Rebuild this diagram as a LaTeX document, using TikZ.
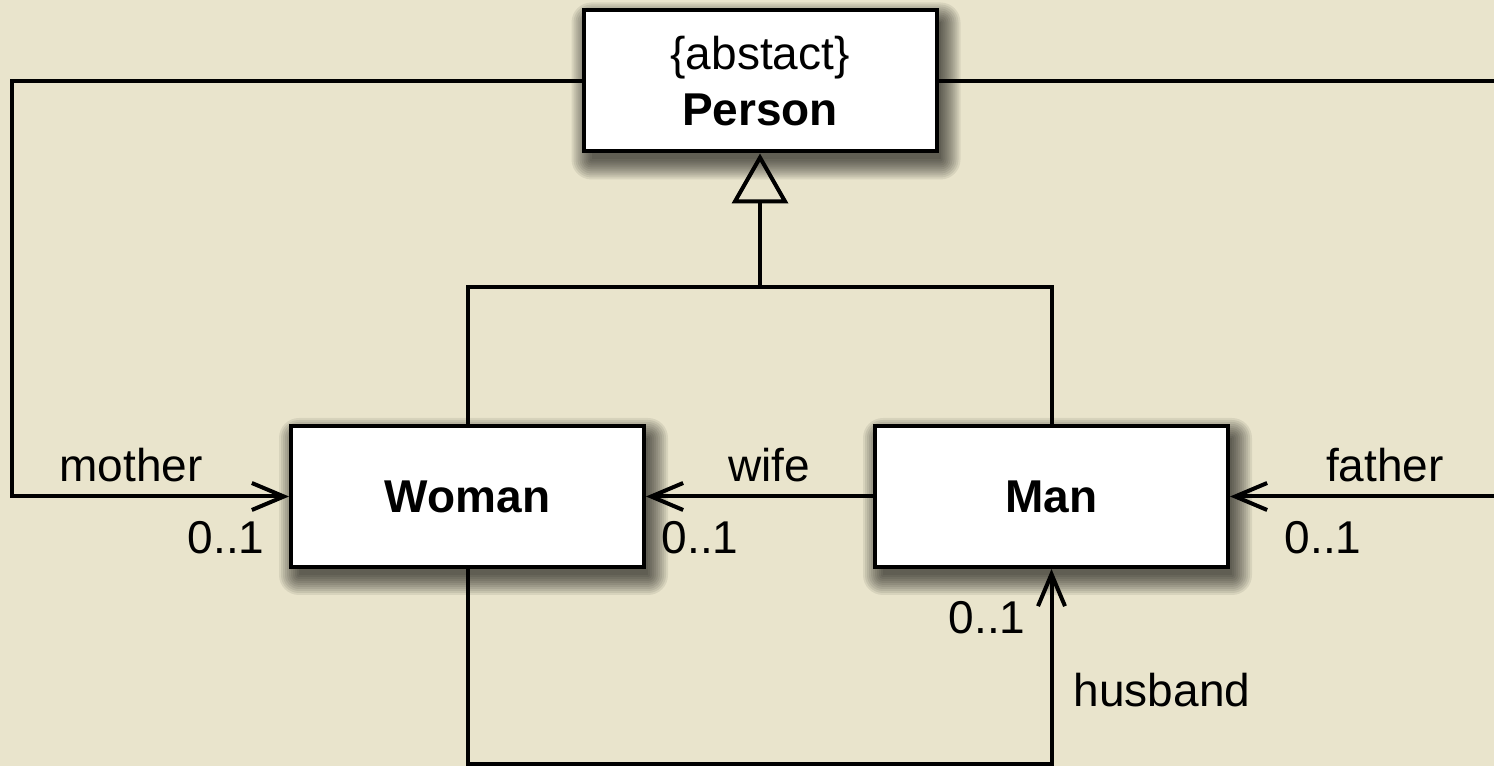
\documentclass[tikz,border=0pt]{standalone}
\usepackage{fontspec}
\setmainfont{Liberation Sans}
\usetikzlibrary{arrows.meta,calc}
\pgfdeclarelayer{bgl}
\pgfdeclarelayer{shad}
\pgfsetlayers{bgl,shad,main}
\definecolor{bgc}{RGB}{233,228,204}
\tikzset{
  cls/.style={draw=black, line width=4pt, fill=white, minimum width=353pt, minimum height=141pt,
    inner sep=0pt, align=center, font=\fontsize{46}{56}\selectfont},
  conn/.style={line width=4pt, draw=black},
  barb/.style={-{Straight Barb[length=32pt,width=27pt,line width=4pt]}},
  gen/.style={-{Triangle[open,length=50pt,width=56pt,line width=4pt]}},
  lbl/.style={font=\fontsize{46}{52}\selectfont, inner sep=0pt},
  shd/.style={fill=black, fill opacity=0.075}
}
\newcommand{\myshadow}[1]{%
  \foreach \r in {0,2,...,20}{%
    \fill[shd, rounded corners=\r pt]
      ($(#1.south west)+(6-\r+4,-10-\r+4)$) rectangle ($(#1.north east)+(6+\r-4,-10+\r-4)$);
  }}
\begin{document}
\begin{tikzpicture}[x=1pt,y=1pt]
\useasboundingbox (0,0) rectangle (1494,766);
\clip (0,0) rectangle (1494,766);
\begin{pgfonlayer}{bgl}
\fill[bgc] (0,0) rectangle (1494,766);
\end{pgfonlayer}

\node[cls] (person) at (760,685) {\{abstact\}\\\textbf{Person}};
\node[cls] (woman) at (467.5,269.5) {\textbf{Woman}};
\node[cls] (man) at (1051.5,269.5) {\textbf{Man}};

\begin{pgfonlayer}{shad}
\myshadow{person}
\myshadow{woman}
\myshadow{man}
\end{pgfonlayer}

\coordinate (ml) at (12,269.5);
\coordinate (fr) at (1512,269.5);
\coordinate (gj) at (760,479);
\coordinate (bj) at (760,2);

\draw[conn,barb] (person.west) -| (ml) -- (woman.west);
\draw[conn,barb] (person.east) -| (fr) -- (man.east);
\draw[conn] (woman.north) |- (gj) -| (man.north);
\draw[conn,gen] (gj) -- (person.south);
\draw[conn,barb] (man.west) -- (woman.east);
\draw[conn,barb] (woman.south) |- (bj) -| (man.south);

\node[lbl] (lmother) at (131,301) {mother};
\node[lbl] (lm01) at (226,228) {0..1};
\node[lbl] (lwife) at (769,301) {wife};
\node[lbl] (lw01) at (700,228) {0..1};
\node[lbl] (lfather) at (1385,301) {father};
\node[lbl] (lf01) at (1323,228) {0..1};
\node[lbl] (lh01) at (987,148) {0..1};
\node[lbl] (lhusband) at (1162,76) {husband};
\end{tikzpicture}
\end{document}
